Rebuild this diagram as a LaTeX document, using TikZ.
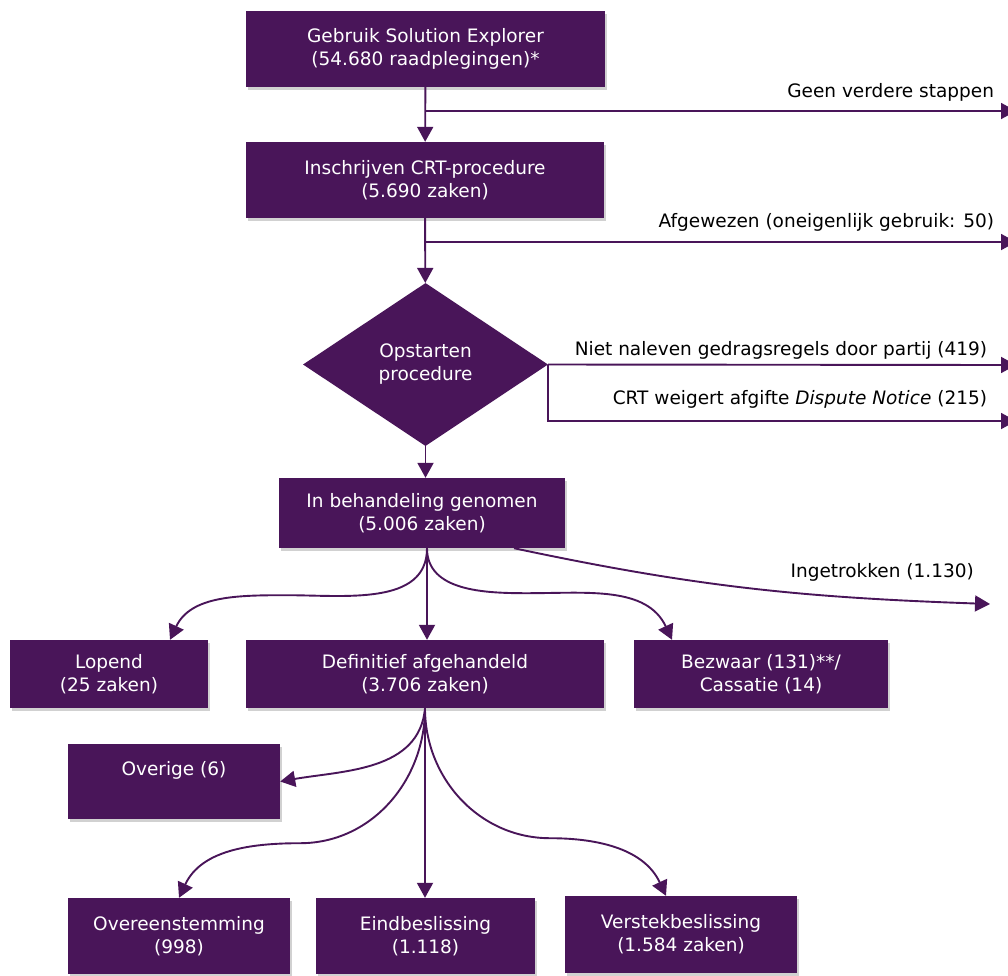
\documentclass[tikz,border=0pt]{standalone}
\usepackage{fontspec}
\setmainfont{DejaVu Sans}
\usetikzlibrary{positioning}
\usetikzlibrary{shapes,shadows,arrows.meta,calc}

\definecolor{crtpaars}{RGB}{73,21,89}

\begin{document}
\begin{tikzpicture}[x=1pt,y=1pt]
\tikzset{every node/.style={font=\fontsize{18.5}{23}\selectfont},
  box/.style={fill=crtpaars, text=white, align=center, inner sep=0pt,
    drop shadow={shadow xshift=2pt, shadow yshift=-3pt, opacity=0.3, fill=black!60}},
  keuze/.style={shape=diamond, fill=crtpaars, text=white, align=center, inner sep=0pt,
    minimum width=245pt, minimum height=163pt},
  pijl/.style={draw=crtpaars, line width=1.9pt, -{Triangle[length=15pt,width=16pt]}},
  uitleg/.style={anchor=base east, inner sep=0pt}}
\useasboundingbox (0,0) rectangle (1008,-975);
\clip (0,0) rectangle (1008,-975);

% bovenste stappen
\node[box, minimum width=359pt, minimum height=76pt] at (425.5,-49) (gse) {Gebruik Solution Explorer\\(54.680 raadplegingen)*};
\node[box, minimum width=358pt, minimum height=76pt] at (425,-180) (ins) {Inschrijven CRT-procedure\\(5.690 zaken)};
\node[keuze] at (425.5,-364.5) (ops) {Opstarten\\procedure};
\node[box, minimum width=286pt, minimum height=70pt] at (422,-513) (beh) {In behandeling genomen\\(5.006 zaken)};

% tweede rij
\node[box, minimum width=198pt, minimum height=68pt] at (109,-674) (lop) {Lopend\\(25 zaken)};
\node[box, minimum width=358pt, minimum height=68pt] at (425,-674) (def) {Definitief afgehandeld\\(3.706 zaken)};
\node[box, minimum width=254pt, minimum height=68pt] at (761,-674) (bez) {Bezwaar (131)**/\\Cassatie (14)};

% afhandeling
\node[box, minimum width=212pt, minimum height=75pt] at (174,-781.5) (ove) {Overige (6)\\\phantom{(}};
\node[box, minimum width=222pt, minimum height=76pt] at (179,-936) (oes) {Overeenstemming\\(998)};
\node[box, minimum width=219pt, minimum height=76pt] at (425.5,-936) (ein) {Eindbeslissing\\(1.118)};
\node[box, minimum width=232pt, minimum height=77pt] at (681,-934.5) (ver) {Verstekbeslissing\\(1.584 zaken)};

% uitgangen rechts
\coordinate (g1) at (425.5,-111);
\coordinate (e1) at (1016,-111);
\coordinate (g2) at (425,-242);
\coordinate (e2) at (1016,-242);
\coordinate (e3) at (1016,-365);
\coordinate (e4) at (1016,-421);
\coordinate (f1) at ([xshift=5pt]beh.south);
\coordinate (f2) at ([xshift=92pt]beh.south);
\coordinate (e5) at (990,-604);
\coordinate (f3) at (def.south);

\draw[pijl] (gse) -- (ins);
\draw[pijl] (g1) -- (e1) node[uitleg, pos=1, xshift=-21pt, yshift=14pt] {Geen verdere stappen};
\draw[pijl] (ins) -- (ops);
\draw[pijl] (g2) -- (e2) node[uitleg, pos=1, xshift=-21pt, yshift=15pt] {Afgewezen (oneigenlijk gebruik: 50)};
\draw[pijl] (ops.east) -- (e3) node[uitleg, pos=1, xshift=-28pt, yshift=10pt] {Niet naleven gedragsregels door partij (419)};
\draw[pijl] (ops.east) |- (e4) node[uitleg, pos=1, xshift=-28pt, yshift=17pt] {CRT weigert afgifte \textit{Dispute Notice} (215)};
\draw[pijl] (ops.south) -- (ops.south |- beh.north);

% waaier onder behandeling
\draw[pijl] (f1) to[out=-90,in=0] ++(-140,-47) to[out=180,in=65] ([xshift=61pt]lop.north);
\draw[pijl] (f1) -- (f1 |- def.north);
\draw[pijl] (f1) to[out=-90,in=180] ++(100,-45) to[out=0,in=115] ([xshift=-89pt]bez.north);
\draw[pijl] (f2) to[out=-12,in=178] (e5);
\node[uitleg] at ([xshift=-16pt,yshift=27pt]e5) (ing) {Ingetrokken (1.130)};

% waaier onder definitief
\draw[pijl] (f3) to[out=-95,in=10] (ove.east);
\draw[pijl] (f3) to[out=-90,in=0] ++(-125,-135) to[out=180,in=65] (oes.north);
\draw[pijl] (f3) -- (f3 |- ein.north);
\draw[pijl] (f3) to[out=-90,in=180] ++(125,-130) to[out=0,in=115] ([xshift=-15pt]ver.north);
\end{tikzpicture}
\end{document}
